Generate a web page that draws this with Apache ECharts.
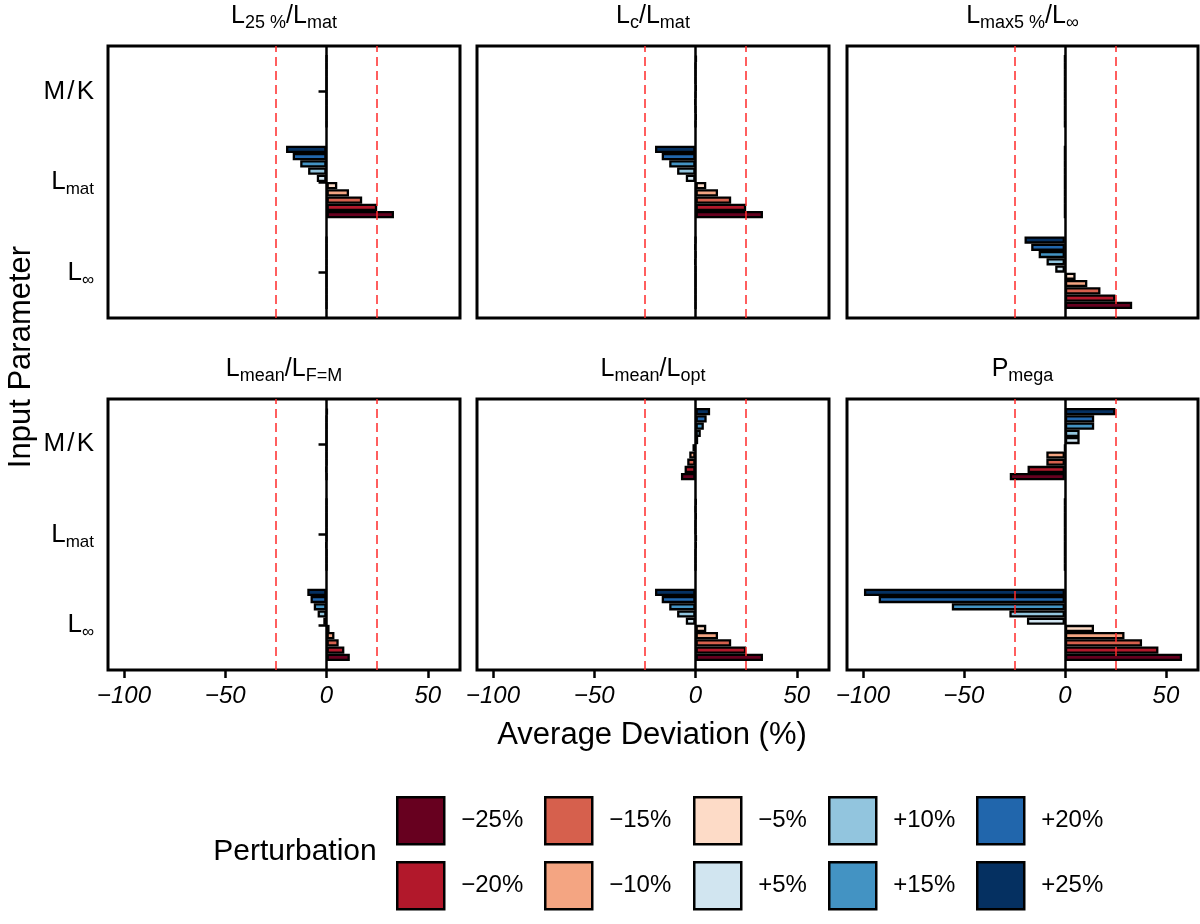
<!DOCTYPE html>
<html>
<head>
<meta charset="utf-8">
<title>Average Deviation</title>
<script src="https://cdn.jsdelivr.net/npm/echarts@6.0.0/dist/echarts.min.js"></script>
<style>
  html, body { margin: 0; padding: 0; background: #fff; }
  #chart { width: 1200px; height: 924px; }
</style>
</head>
<body>
<div id="chart"></div>
<script>
// input parameters, bottom to top
const params = ['L∞', 'Lmat', 'M/K']
// perturbation levels (series)
const perturbations = ['−25%', '−20%', '−15%', '−10%', '−5%', '+5%', '+10%', '+15%', '+20%', '+25%']
const colors = ['#67001F', '#B2182B', '#D6604D', '#F4A582', '#FDDBC7', '#D1E5F0', '#92C5DE', '#4393C3', '#2166AC', '#053061']
const xTicks = [-100, -50, 0, 50]
const thresholds = [-25, 25]

// each row is one perturbation: [L∞, Lmat, M/K], average deviation in %
const devL25Lmat = [
  [0, 33.3, 0], [0, 25, 0], [0, 17.6, 0], [0, 11.1, 0], [0, 5.3, 0],
  [0, -4.8, 0], [0, -9.1, 0], [0, -13, 0], [0, -16.7, 0], [0, -20, 0]
]
const devLcLmat = [
  [0, 33.3, 0], [0, 25, 0.3], [0, 17.6, 0], [0, 11.1, -0.3], [0, 5.3, 0],
  [0, -4.8, 0.3], [-0.3, -9.1, 0], [0, -13, 0], [-0.3, -16.7, 0], [0, -20, 0.4]
]
const devLmax5Linf = [
  [33.3, 0, 0], [25, 0, 0], [17.6, 0, 0], [11.1, 0, 0], [5.3, 0, 0],
  [-4.8, 0, 0], [-9.1, 0, 0], [-13, 0, 0], [-16.7, 0, 0], [-20, 0, 0]
]
const devLmeanLfm = [
  [11.5, 0, 0], [8.8, 0, -0.3], [6, 0, 0], [3.9, -0.3, 0], [1.5, 0, 0],
  [-1.6, 0, 0], [-4.4, 0, 0], [-6.3, 0, 0], [-7.9, 0, 0], [-9.5, 0, 0.4]
]
const devLmeanLopt = [
  [33.3, 0, -7.2], [25, 0, -5.4], [17.6, 0, -4.1], [11.1, 0.3, -3.1], [5.3, 0.4, -1.5],
  [-4.8, 0, 1.3], [-9.1, 0, 2.6], [-13, 0.3, 4.1], [-16.7, 0, 5.5], [-20, 0.3, 7.2]
]
const devPmega = [
  [58, 0, -27.3], [46.3, 0, -18.5], [38.2, 0, -9.2], [29.5, 0, -9.2], [14.4, 0, 0],
  [-18.8, 0, 7.3], [-27.5, 0, 7.3], [-56, 0, 14.5], [-92.2, 0, 14.5], [-99.5, 0, 25]
]

const panels = [devL25Lmat, devLcLmat, devLmax5Linf, devLmeanLfm, devLmeanLopt, devPmega]
const panelTitles = [
  '{b|L}{s|25 %}{b|/L}{s|mat}',
  '{b|L}{s|c}{b|/L}{s|mat}',
  '{b|L}{s|max5 %}{b|/L}{s|∞}',
  '{b|L}{s|mean}{b|/L}{s|F=M}',
  '{b|L}{s|mean}{b|/L}{s|opt}',
  '{b|P}{s|mega}'
]

const FONT = '"Liberation Sans", Arial, Helvetica, sans-serif'
const colLeft = [108, 477, 847]
const colWidth = [352, 352, 351]
const rowTop = [46, 399]
const rowHeight = [272, 271]

const subRich = {
  b: { fontSize: 25, lineHeight: 32, color: '#000', fontWeight: 'normal', fontFamily: FONT },
  s: { fontSize: 18, lineHeight: 18, color: '#000', fontWeight: 'normal', fontFamily: FONT, verticalAlign: 'bottom' }
}

function paramLabel(v) {
  if (v === 'L∞') return '{b|L}{s|∞}'
  if (v === 'Lmat') return '{b|L}{s|mat}'
  return '{b|M\u200a/\u200aK}'
}

const chartInstance = echarts.init(document.getElementById('chart'), null, { renderer: 'canvas' })

const grids = []
const xAxes = []
const yAxes = []
const titles = []
const series = []

panels.forEach((rows, p) => {
  const col = p % 3
  const row = Math.floor(p / 3)
  const isBottom = row === 1
  const isLeft = col === 0

  grids.push({
    left: colLeft[col],
    top: rowTop[row],
    width: colWidth[col],
    height: rowHeight[row],
    show: true,
    borderColor: '#000',
    borderWidth: 3,
    outerBoundsMode: 'none'
  })

  xAxes.push({
    type: 'value',
    gridIndex: p,
    min: -107.9,
    max: 65.9,
    splitLine: { show: false },
    axisLine: { show: false },
    axisTick: {
      show: isBottom,
      customValues: xTicks,
      length: 8,
      lineStyle: { color: '#000', width: 2.5 }
    },
    axisLabel: {
      show: isBottom,
      customValues: xTicks,
      margin: 14,
      color: '#000',
      fontSize: 24,
      fontStyle: 'italic',
      fontFamily: FONT,
      formatter: (v) => String(v).replace('-', '−')
    }
  })

  yAxes.push({
    type: 'category',
    gridIndex: p,
    data: params,
    axisLine: { show: false },
    axisTick: {
      show: isLeft,
      alignWithLabel: true,
      length: 8,
      lineStyle: { color: '#000', width: 2.5 }
    },
    axisLabel: {
      show: isLeft,
      interval: 0,
      margin: 14,
      formatter: paramLabel,
      rich: {
        b: { fontSize: 26, lineHeight: 32, color: '#000', fontFamily: FONT },
        s: { fontSize: 17, lineHeight: 17, color: '#000', fontFamily: FONT, verticalAlign: 'bottom' }
      }
    }
  })

  titles.push({
    text: panelTitles[p],
    left: colLeft[col] + colWidth[col] / 2,
    top: row === 0 ? 0 : 353,
    textAlign: 'center',
    padding: 0,
    textStyle: { fontWeight: 'normal', rich: subRich }
  })

  // horizontal bars stack from the top, so add +25 % first to put −25 % at the bottom
  for (let i = perturbations.length - 1; i >= 0; i--) {
    const s = {
      type: 'bar',
      name: perturbations[i],
      xAxisIndex: p,
      yAxisIndex: p,
      data: rows[i],
      barGap: '0%',
      barCategoryGap: '20%',
      itemStyle: { color: colors[i], borderColor: '#000', borderWidth: 2.3 }
    }
    // reference lines: zero and the ±25 % band
    if (i === 0) {
      s.markLine = {
        silent: true,
        symbol: 'none',
        label: { show: false },
        animation: false,
        data: [
          { xAxis: 0, lineStyle: { color: '#000', type: 'solid', width: 2.5 } },
          { xAxis: thresholds[0], lineStyle: { color: '#ff2a2a', type: [9, 5], width: 1.5 } },
          { xAxis: thresholds[1], lineStyle: { color: '#ff2a2a', type: [9, 5], width: 1.5 } }
        ]
      }
    }
    series.push(s)
  }
})

// legend: two rows, filled column by column
const legendLeft = [396, 544, 693, 828, 976]
const legendTop = [796, 861]
const legends = perturbations.map((name, i) => ({
  data: [name],
  left: legendLeft[Math.floor(i / 2)],
  top: legendTop[i % 2],
  padding: 0,
  icon: 'rect',
  itemWidth: 47,
  itemHeight: 47,
  selectedMode: false,
  itemStyle: { borderColor: '#000', borderWidth: 2.5 },
  textStyle: { color: '#000', fontSize: 24, fontFamily: FONT, padding: [0, 0, 0, 12] }
}))

const option = {
  animation: false,
  backgroundColor: '#fff',
  title: titles,
  grid: grids,
  xAxis: xAxes,
  yAxis: yAxes,
  legend: legends,
  series: series,
  graphic: [
    {
      type: 'text',
      x: 21,
      y: 357,
      rotation: Math.PI / 2,
      style: { text: 'Input Parameter', fill: '#000', font: '31px ' + FONT, align: 'center', verticalAlign: 'middle' }
    },
    {
      type: 'text',
      x: 652,
      y: 735,
      style: { text: 'Average Deviation (%)', fill: '#000', font: '31px ' + FONT, align: 'center', verticalAlign: 'middle' }
    },
    {
      type: 'text',
      x: 295,
      y: 852,
      style: { text: 'Perturbation', fill: '#000', font: '30px ' + FONT, align: 'center', verticalAlign: 'middle' }
    }
  ]
}

chartInstance.setOption(option)
</script>
</body>
</html>
